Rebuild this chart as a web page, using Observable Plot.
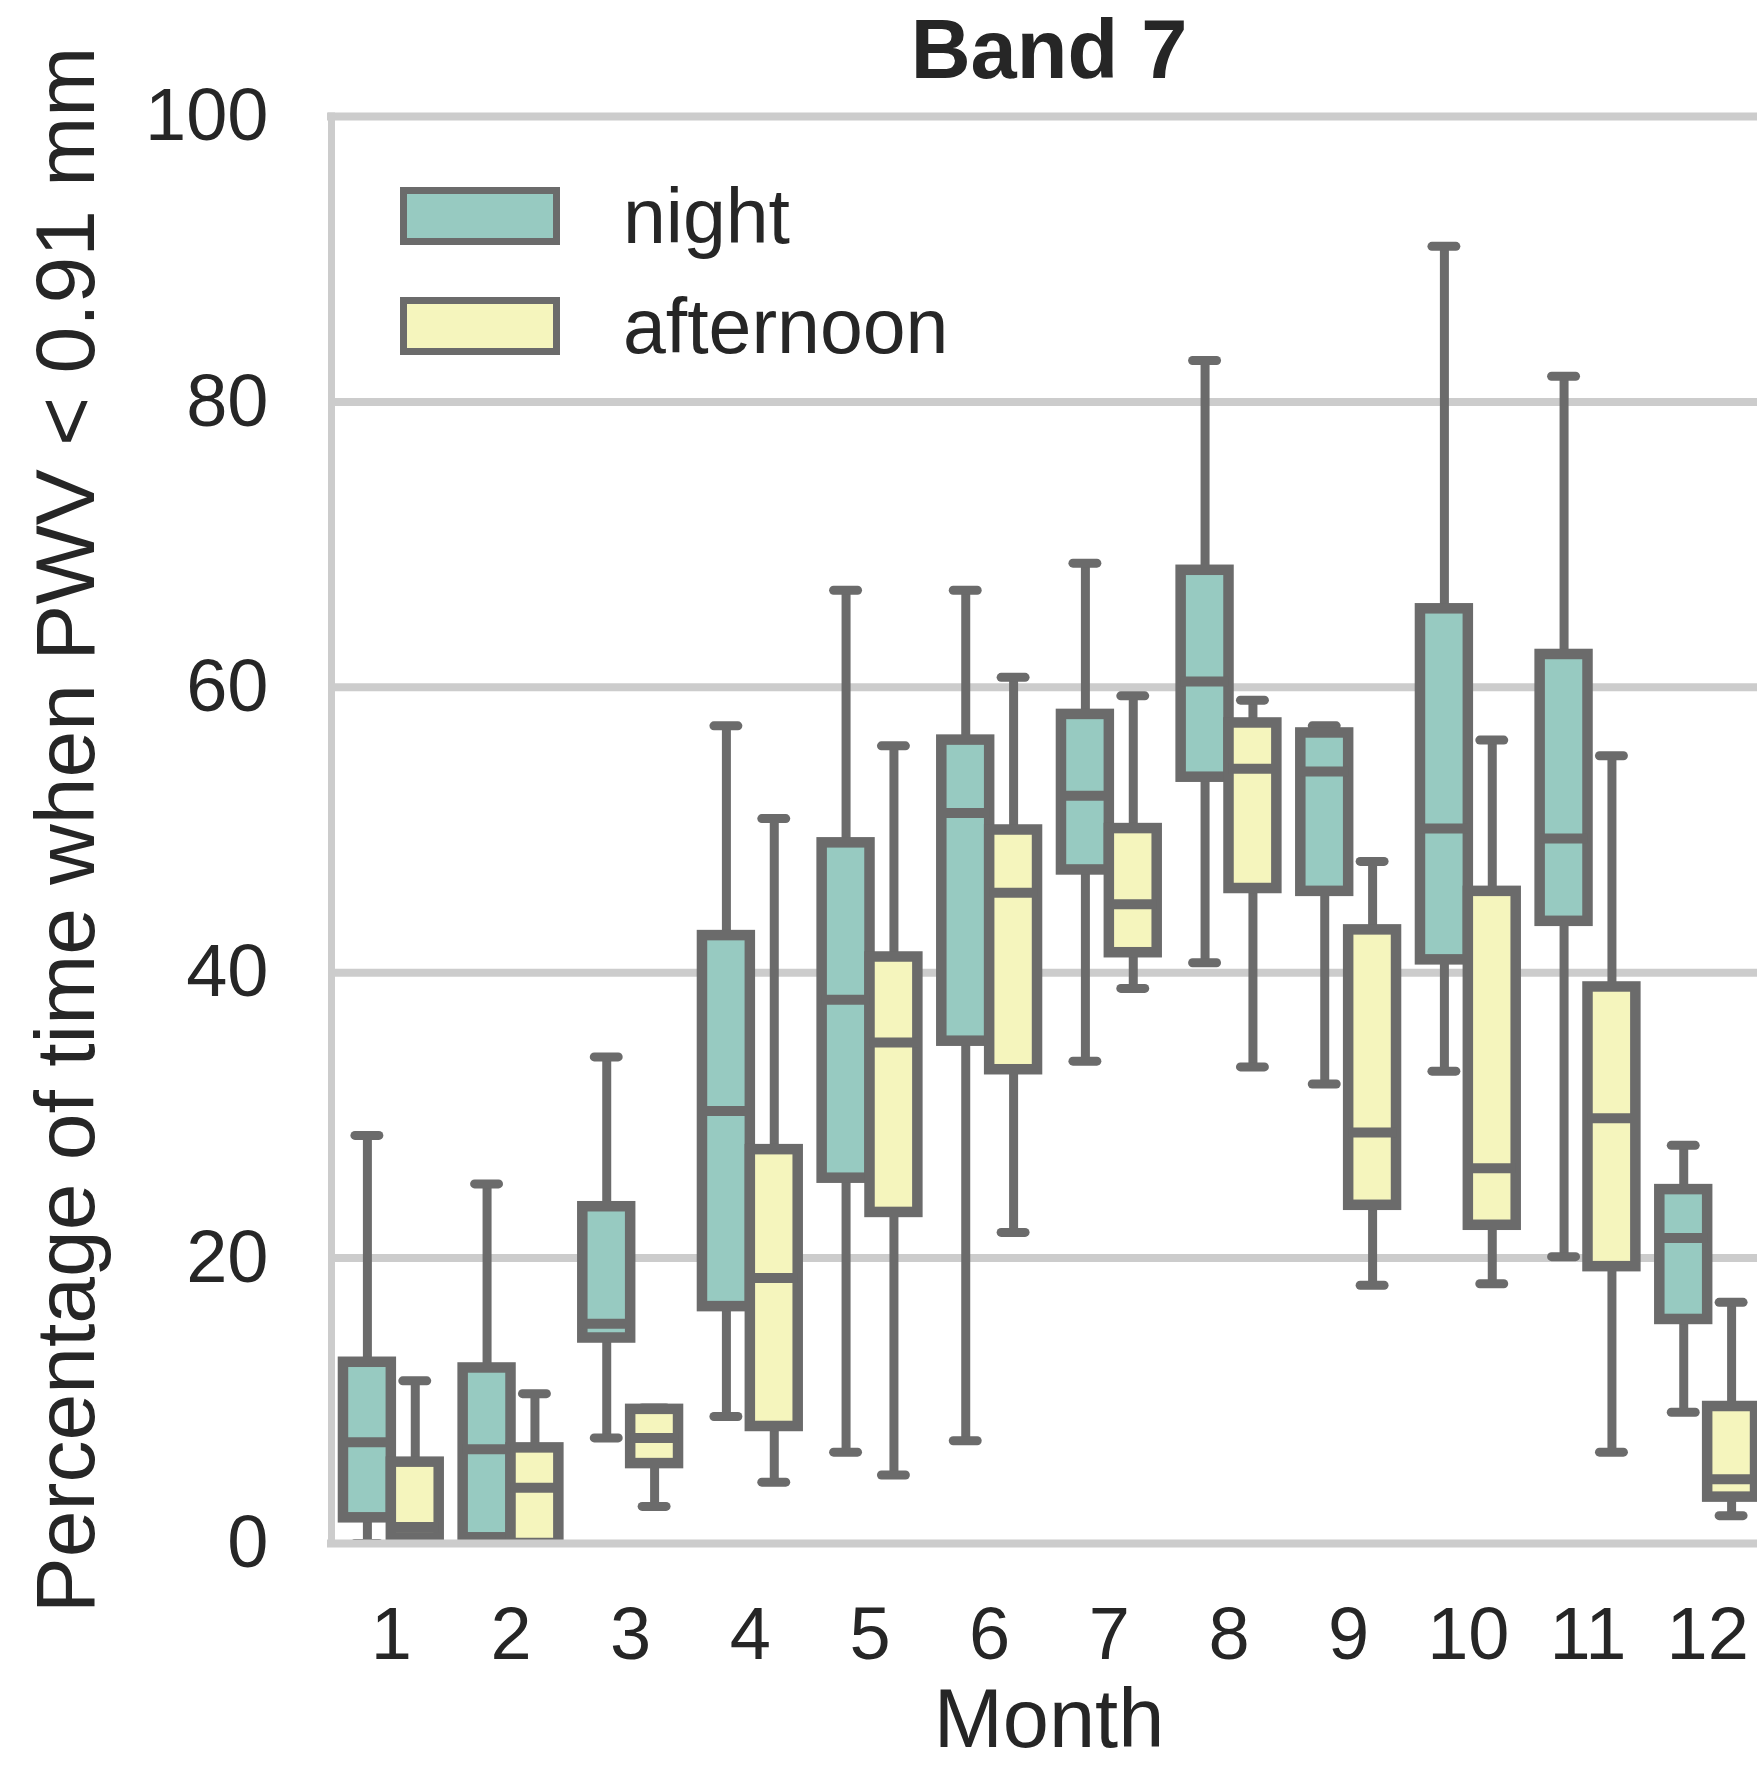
<!DOCTYPE html>
<html>
<head>
<meta charset="utf-8">
<script src="https://cdn.jsdelivr.net/npm/d3@7"></script>
<script src="https://cdn.jsdelivr.net/npm/@observablehq/plot@0.6"></script>
<style>
  html, body { margin: 0; padding: 0; overflow: hidden; background: #ffffff; }
  #wrap { position: relative; width: 1757px; height: 1767px; overflow: hidden; font-family: "Liberation Sans", Arial, sans-serif; color: #262626; }
  .txt { position: absolute; line-height: 1; white-space: nowrap; }
  .patch { position: absolute; box-sizing: border-box; border: 7px solid #6b6b6b; }
</style>
</head>
<body>
<div id="wrap"></div>
<script>
// ---- data ----
const months = [1, 2, 3, 4, 5, 6, 7, 8, 9, 10, 11, 12];
const groups = ["night", "afternoon"];
const groupColors = ["#97cac1", "#f5f5bd"];

const nightLow    = [0,    0,    7.4,  8.9,  6.4,  7.2,  33.8, 40.7, 32.2, 33.1, 20.1, 9.2];
const nightQ1     = [1.8,  0.4,  14.4, 16.6, 25.6, 35.2, 47.2, 53.7, 45.7, 40.9, 43.6, 15.7];
const nightMedian = [7.1,  6.6,  15.4, 30.3, 38.1, 51.2, 52.4, 60.4, 54.1, 50.1, 49.4, 21.4];
const nightQ3     = [12.7, 12.3, 23.6, 42.6, 49.1, 56.3, 58.1, 68.2, 56.8, 65.5, 62.3, 24.8];
const nightHigh   = [28.6, 25.2, 34.1, 57.3, 66.8, 66.8, 68.7, 82.9, 57.3, 90.9, 81.8, 27.9];

const aftLow      = [0,    0,    2.6,  4.3,  4.8,  21.8, 38.9, 33.4, 18.1, 18.2, 6.4,  1.95];
const aftQ1       = [0.4,  0,    5.6,  8.2,  23.2, 33.2, 41.4, 45.9, 23.7, 22.3, 19.4, 3.25];
const aftMedian   = [1.15, 3.9,  7.4,  18.6, 35.1, 45.6, 44.8, 54.3, 28.8, 26.3, 29.8, 4.5];
const aftQ3       = [5.7,  6.7,  9.4,  27.6, 41.1, 50.0, 50.1, 57.5, 43.0, 45.7, 39.0, 9.6];
const aftHigh     = [11.4, 10.5, 9.5,  50.8, 55.9, 60.7, 59.4, 59.1, 47.8, 56.3, 55.2, 16.9];

const yTicks = [0, 20, 40, 60, 80, 100];

// ---- table for Plot ----
const series = {
  night:     {lo: nightLow, q1: nightQ1, med: nightMedian, q3: nightQ3, hi: nightHigh, side: -1},
  afternoon: {lo: aftLow,   q1: aftQ1,   med: aftMedian,   q3: aftQ3,   hi: aftHigh,   side: 1}
};
const half = 0.2; // half of a box, in month units (seaborn width 0.8 split in two)
const rows = months.flatMap((m, i) => groups.map(g => {
  const s = series[g];
  const xc = m + s.side * half;
  return {month: m, group: g, xc, x1: xc - half, x2: xc + half,
          lo: s.lo[i], q1: s.q1[i], med: s.med[i], q3: s.q3[i], hi: s.hi[i]};
}));

const gray = "#6b6b6b";
const gridColor = "#cccccc";

const chart = Plot.plot({
  width: 1767,
  height: 1767,
  marginLeft: 331,
  marginRight: 0,
  marginTop: 116,
  marginBottom: 224,
  style: {fontFamily: "'Liberation Sans', Arial, sans-serif", color: "#262626", background: "transparent", overflow: "visible"},
  x: {domain: [0.5, 12.5]},
  y: {domain: [0, 100]},
  color: {domain: groups, range: groupColors},
  marks: [
    Plot.ruleY([20, 40, 60, 80], {stroke: gridColor, strokeWidth: 8}),
    Plot.ruleX(rows, {x: "xc", y1: "lo", y2: "hi", stroke: gray, strokeWidth: 9, clip: true}),
    Plot.ruleY(rows, {y: "hi", x1: d => d.xc - 0.1, x2: d => d.xc + 0.1, stroke: gray, strokeWidth: 9, strokeLinecap: "round", clip: true}),
    Plot.ruleY(rows, {y: "lo", x1: d => d.xc - 0.1, x2: d => d.xc + 0.1, stroke: gray, strokeWidth: 9, strokeLinecap: "round", clip: true}),
    Plot.rect(rows, {x1: "x1", x2: "x2", y1: "q1", y2: "q3", fill: "group", stroke: gray, strokeWidth: 10.5, clip: true}),
    Plot.ruleY(rows, {y: "med", x1: "x1", x2: "x2", stroke: gray, strokeWidth: 10, clip: true}),
    Plot.ruleY([0, 100], {stroke: gridColor, strokeWidth: 8, strokeLinecap: "square"}),
    Plot.ruleX([0.5], {stroke: gridColor, strokeWidth: 7, strokeLinecap: "square"}),
    Plot.axisY(yTicks, {tickSize: 0, tickPadding: 63, fontSize: 74, label: null, tickFormat: d => String(d)}),
    Plot.axisX(months, {tickSize: 0, tickPadding: 63, fontSize: 74, label: null, tickFormat: d => String(d)})
  ]
});

const wrap = document.getElementById("wrap");
chart.style.position = "absolute";
chart.style.left = "0px";
chart.style.top = "0px";
chart.style.maxWidth = "none";
chart.style.width = "1767px";
chart.style.height = "1767px";
wrap.appendChild(chart);

function addText(text, opts) {
  const d = document.createElement("div");
  d.className = "txt";
  d.textContent = text;
  Object.assign(d.style, opts);
  wrap.appendChild(d);
  return d;
}

// title
addText("Band 7", {left: "1049px", top: "8px", fontSize: "83px", fontWeight: "bold", transform: "translateX(-50%)"});
// x label (kept just inside the bottom edge)
addText("Month", {left: "1049px", top: "1686px", fontSize: "83px", lineHeight: "0.8", transform: "translateX(-50%)"});
// y label
addText("Percentage of time when PWV < 0.91 mm", {left: "65px", top: "830px", fontSize: "84px", transform: "translate(-50%, -50%) rotate(-90deg)"});

// legend
const legendTops = [187, 297];
const legendBaselines = [243, 353];
groups.forEach((g, i) => {
  const p = document.createElement("div");
  p.className = "patch";
  Object.assign(p.style, {left: "400px", top: legendTops[i] + "px", width: "160px", height: "58px", background: groupColors[i]});
  wrap.appendChild(p);
  addText(g, {left: "623px", top: (legendBaselines[i] - 0.8465 * 77) + "px", fontSize: "77px"});
});
</script>
</body>
</html>
